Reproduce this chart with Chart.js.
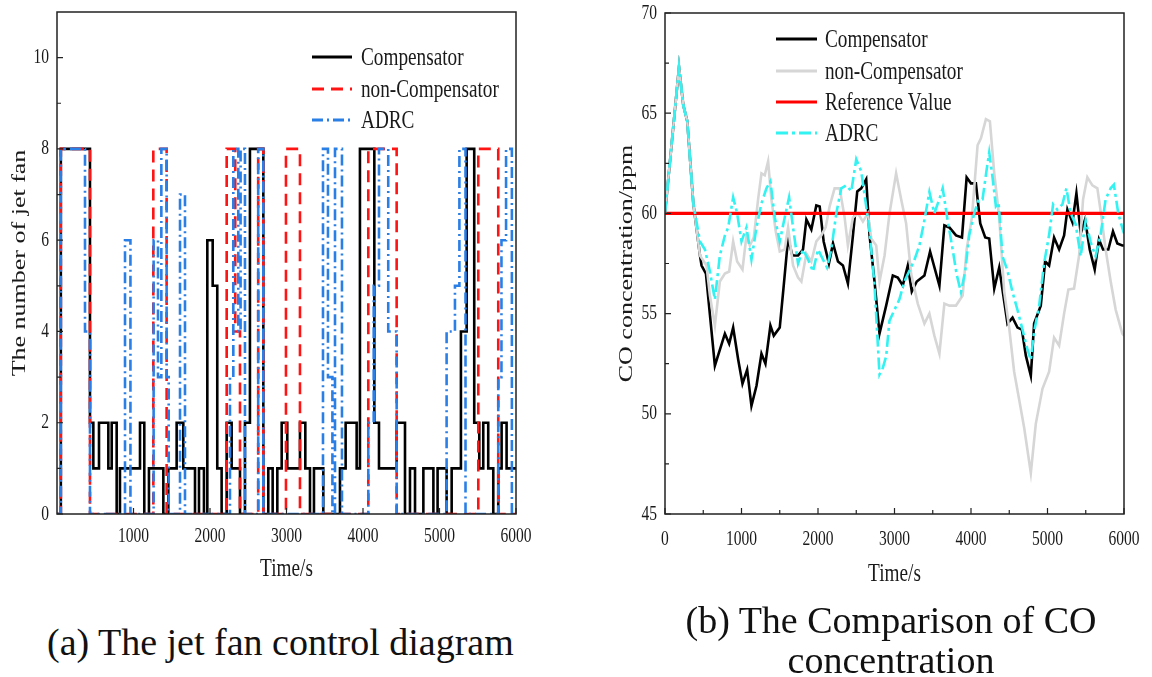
<!DOCTYPE html>
<html>
<head>
<meta charset="utf-8">
<script src="https://cdn.jsdelivr.net/npm/chart.js@4.4.1/dist/chart.umd.min.js"></script>
<style>
body { margin: 0; background: #fff; width: 1152px; height: 677px; position: relative; overflow: hidden;
       font-family: "Liberation Serif", "DejaVu Serif", serif; color: #111; }
canvas { position: absolute; top: 0; }
#fan { left: 0; }
#co { left: 580px; }
.cap { position: absolute; font-size: 38px; line-height: 40px; white-space: nowrap; }
</style>
</head>
<body>
<canvas id="fan" width="560" height="600"></canvas>
<canvas id="co" width="572" height="600"></canvas>
<div class="cap" style="left:47px; top:622px;">(a) The jet fan control diagram</div>
<div class="cap" style="left:640px; width:502px; top:600px; text-align:center;">(b) The Comparison of CO<br>concentration</div>
<script>
// (a) number of jet fans: time (s) where the level changes, and the new level
const fanCompT = [0, 50, 431, 475, 549, 671, 715, 780, 823, 1085, 1141, 1202, 1390, 1455, 1564, 1651, 1804, 1856, 1921, 1965,
                  2035, 2095, 2152, 2218, 2283, 2392, 2457, 2522, 2697, 2762, 2819, 2880, 2937, 3010, 3176, 3246, 3307, 3359, 3481, 3699,
                  3773, 3917, 3960, 4148, 4209, 4440, 4549, 4614, 4680, 4789, 4920, 4975, 5093, 5159, 5280, 5355, 5454, 5520, 5572, 5637,
                  5703, 5768, 5812, 5877, 6000];
const fanComp  = [0, 8, 2, 1, 2, 1, 2, 0, 1, 2, 0, 1, 0, 1, 2, 1, 0, 1, 0, 6,
                  5, 1, 0, 2, 1, 0, 2, 8, 0, 1, 0, 1, 2, 1, 2, 1, 0, 1, 0, 1,
                  2, 1, 8, 2, 1, 2, 0, 1, 0, 1, 0, 1, 0, 1, 4, 8, 2, 1, 2, 1,
                  0, 1, 2, 1, 1];

const fanNonT = [0, 50, 431, 1259, 1433, 2218, 2330, 2392, 2630, 2697, 2993, 3176, 4069, 4440, 5507, 5768, 6000];
const fanNon  = [0, 8, 0, 8, 0, 8, 4, 0, 8, 0, 8, 0, 8, 0, 8, 0, 0];

const fanAdrcT = [0, 50, 366, 431, 889, 960, 1263, 1320, 1364, 1433, 1460, 1608, 1673, 2261, 2305, 2370, 2400, 2457, 2630, 2697,
                  3477, 3542, 3600, 3634, 3725, 4069, 4140, 4209, 4330, 4440, 5093, 5202, 5260, 5340, 5768, 5810, 5870, 5946, 6000];
const fanAdrc  = [0, 8, 4, 0, 6, 0, 6, 3, 8, 3, 0, 7, 0, 3, 8, 4, 8, 0, 8, 0,
                  8, 3, 0, 8, 0, 2, 5, 8, 4, 0, 4, 5, 8, 0, 3, 6, 8, 0, 0];

// (b) CO concentration (ppm)
const coCompT = [0, 183, 239, 291, 370, 457, 478, 535, 652, 783, 839, 891, 957, 1013, 1074, 1130, 1196, 1261, 1313, 1378,
                 1422, 1500, 1552, 1609, 1665, 1739, 1804, 1848, 1913, 1978, 2022, 2074, 2143, 2196, 2261, 2326, 2391, 2457, 2513, 2565,
                 2630, 2674, 2739, 2804, 2891, 2978, 3043, 3108, 3174, 3226, 3291, 3391, 3465, 3587, 3652, 3717, 3804, 3882, 3943, 3999,
                 4064, 4121, 4186, 4238, 4304, 4369, 4477, 4543, 4608, 4665, 4717, 4782, 4825, 4912, 4969, 5021, 5086, 5152, 5217, 5260,
                 5326, 5378, 5434, 5491, 5552, 5617, 5673, 5726, 5795, 5856, 5913, 5978, 6000];
const coComp  = [60.0, 67.3, 65.4, 64.6, 60.5, 57.9, 57.4, 57.0, 52.4, 54.0, 53.5, 54.3, 52.7, 51.5, 52.2, 50.4, 51.4, 53.0, 52.5, 54.4,
                 53.9, 54.3, 56.4, 58.75, 57.9, 57.9, 58.2, 59.7, 59.2, 60.4, 60.35, 58.6, 57.5, 58.5, 57.6, 57.4, 56.5, 58.9, 61.1, 61.25,
                 61.7, 58.9, 56.6, 54.0, 55.4, 56.9, 56.8, 56.4, 57.4, 56.1, 56.6, 56.9, 58.1, 56.4, 59.4, 59.3, 58.9, 58.8, 61.8, 61.5,
                 61.5, 59.5, 58.8, 58.75, 56.25, 57.3, 54.5, 54.8, 54.3, 54.2, 52.9, 51.9, 54.5, 55.4, 57.6, 57.4, 58.8, 58.2, 58.9, 60.2,
                 59.55, 61.0, 59.0, 59.7, 58.2, 57.2, 58.7, 58.2, 58.2, 59.1, 58.5, 58.4, 58.4];

const coNonT = [0, 183, 239, 291, 370, 457, 543, 587, 652, 717, 783, 839, 891, 943, 1013, 1065, 1109, 1161, 1217, 1261,
                1304, 1348, 1391, 1448, 1500, 1565, 1609, 1674, 1739, 1783, 1848, 1913, 1978, 2043, 2100, 2152, 2217, 2283, 2348, 2391,
                2457, 2522, 2587, 2652, 2696, 2761, 2804, 2870, 2935, 3021, 3087, 3152, 3217, 3304, 3391, 3456, 3521, 3587, 3652, 3717,
                3804, 3891, 3943, 4012, 4086, 4130, 4195, 4247, 4304, 4369, 4434, 4499, 4564, 4630, 4695, 4782, 4847, 4934, 5021, 5086,
                5152, 5217, 5273, 5347, 5413, 5465, 5521, 5587, 5652, 5695, 5760, 5826, 5891, 5978, 6000];
const coNon  = [60.0, 67.3, 65.4, 64.6, 60.5, 57.9, 57.4, 55.9, 54.4, 56.6, 57.0, 57.1, 58.6, 57.6, 57.2, 58.9, 58.4, 58.8, 60.7, 62.0,
                61.9, 62.6, 60.7, 59.1, 58.1, 58.2, 59.3, 57.4, 56.8, 56.6, 58.0, 57.6, 58.6, 58.9, 59.3, 60.35, 61.25, 61.25, 59.8, 58.4,
                59.8, 60.0, 59.6, 60.0, 58.75, 58.4, 56.6, 57.9, 60.0, 62.0, 60.7, 59.5, 57.0, 55.5, 54.5, 55.0, 53.9, 53.0, 55.5, 55.4,
                55.4, 55.9, 58.2, 59.8, 63.4, 63.75, 64.7, 64.6, 62.0, 59.8, 56.1, 54.3, 52.1, 50.7, 49.3, 47.05, 49.5, 51.25, 52.1, 53.8,
                53.4, 55.0, 56.2, 56.25, 57.9, 60.7, 61.8, 61.4, 61.25, 60.1, 58.2, 56.6, 55.2, 54.0, 53.9];

const coRefT = [0, 6000];
const coRef  = [60, 60];

const coAdrcT = [0, 183, 239, 291, 370, 457, 522, 587, 652, 717, 783, 826, 891, 943, 1000, 1065, 1130, 1196, 1261, 1326,
                 1378, 1435, 1500, 1565, 1622, 1674, 1739, 1804, 1870, 1935, 2000, 2065, 2117, 2174, 2239, 2304, 2370, 2435, 2500, 2565,
                 2630, 2674, 2739, 2804, 2848, 2891, 2934, 2999, 3064, 3130, 3195, 3260, 3325, 3390, 3456, 3521, 3586, 3630, 3695, 3760,
                 3812, 3869, 3925, 3977, 4042, 4099, 4151, 4203, 4238, 4282, 4325, 4360, 4412, 4477, 4543, 4608, 4673, 4738, 4782, 4825,
                 4890, 4955, 5021, 5073, 5129, 5195, 5247, 5303, 5368, 5434, 5499, 5564, 5629, 5694, 5760, 5825, 5868, 5925, 5977, 6000];
const coAdrc  = [60.0, 67.3, 65.4, 64.6, 60.5, 58.6, 58.2, 57.1, 55.7, 57.9, 58.9, 59.3, 60.8, 60.0, 58.6, 59.3, 57.7, 59.3, 60.5, 61.25,
                 61.6, 59.8, 58.6, 59.8, 60.8, 59.3, 57.5, 58.2, 57.7, 57.1, 58.2, 57.7, 57.3, 58.2, 60.0, 61.25, 61.4, 61.1, 62.7, 62.1,
                 60.35, 59.1, 56.4, 51.96, 52.3, 52.86, 54.64, 55.18, 55.71, 56.61, 57.14, 57.68, 58.39, 59.64, 61.07, 60.0, 60.71, 61.25, 59.64, 58.21,
                 56.96, 56.07, 57.14, 58.93, 60.0, 60.71, 60.71, 62.14, 63.04, 61.79, 60.36, 60.54, 57.86, 57.14, 56.07, 55.18, 54.2, 53.21, 52.68, 54.11,
                 55.36, 57.5, 58.93, 60.45, 60.18, 60.45, 61.25, 60.0, 59.46, 57.86, 59.64, 58.57, 57.86, 58.93, 60.71, 61.25, 61.43, 60.0, 59.29, 59.0];

// tick labels
const fanTicksX = [1000, 2000, 3000, 4000, 5000, 6000];
const fanTicksY = [0, 2, 4, 6, 8, 10];
const coTicksX = [0, 1000, 2000, 3000, 4000, 5000, 6000];
const coTicksY = [45, 50, 55, 60, 65, 70];

const SX = 0.74; // the figure's lettering is horizontally squeezed
const FONT = '"Liberation Serif", "DejaVu Serif", serif';

function pts(xs, ys) {
    return xs.map((x, i) => ({ x: x, y: ys[i] }));
}

function squeezed(ctx, text, x, y, size, align, rot) {
    ctx.save();
    ctx.translate(x, y);
    ctx.scale(SX, 1);
    if (rot) ctx.rotate(rot);
    ctx.font = size + 'px ' + FONT;
    ctx.textAlign = align;
    ctx.textBaseline = 'middle';
    ctx.fillStyle = '#1a1a1a';
    ctx.fillText(text, 0, 0);
    ctx.restore();
}

// frame, inward ticks, labels, titles and legend drawn like the paper figure
function paperPlugin(cfg) {
    return {
        id: 'paper',
        afterDatasetsDraw(chart) {
            const ctx = chart.ctx;
            const a = chart.chartArea;
            const sx = chart.scales.x, sy = chart.scales.y;
            ctx.save();
            ctx.strokeStyle = '#222';
            ctx.lineWidth = 1.5;
            ctx.strokeRect(a.left, a.top, a.right - a.left, a.bottom - a.top);

            ctx.lineWidth = 1.2;
            ctx.beginPath();
            cfg.xMajor.forEach(v => { const p = sx.getPixelForValue(v); ctx.moveTo(p, a.bottom); ctx.lineTo(p, a.bottom - 6); });
            cfg.xMinor.forEach(v => { const p = sx.getPixelForValue(v); ctx.moveTo(p, a.bottom); ctx.lineTo(p, a.bottom - 4); });
            cfg.yMajor.forEach(v => { const p = sy.getPixelForValue(v); ctx.moveTo(a.left, p); ctx.lineTo(a.left + 6, p); });
            cfg.yMinor.forEach(v => { const p = sy.getPixelForValue(v); ctx.moveTo(a.left, p); ctx.lineTo(a.left + 4, p); });
            ctx.stroke();

            cfg.xLabels.forEach(v => squeezed(ctx, String(v), sx.getPixelForValue(v), cfg.xLabelY, 21, 'center'));
            cfg.yLabels.forEach(v => squeezed(ctx, String(v), cfg.yLabelX, sy.getPixelForValue(v), 21, 'right'));
            squeezed(ctx, cfg.xTitle, (a.left + a.right) / 2, cfg.xTitleY, 26, 'center');
            squeezed(ctx, cfg.yTitle, cfg.yTitleX, (a.top + a.bottom) / 2, 26, 'center', -Math.PI / 2);

            const lg = cfg.legend;
            lg.rows.forEach((di, i) => {
                const ds = chart.data.datasets[di];
                const y = lg.ys[i];
                ctx.save();
                ctx.strokeStyle = ds.borderColor;
                ctx.lineWidth = 3;
                ctx.setLineDash(ds.borderDash || []);
                ctx.beginPath();
                ctx.moveTo(lg.x1, y);
                ctx.lineTo(lg.x2, y);
                ctx.stroke();
                ctx.restore();
                squeezed(ctx, ds.label, lg.tx, y + 1, 26, 'left');
            });
            ctx.restore();
        }
    };
}

function baseOptions(pad, xMax, yMin, yMax) {
    return {
        responsive: false,
        animation: false,
        layout: { padding: pad },
        scales: {
            x: { type: 'linear', min: 0, max: xMax, display: false },
            y: { type: 'linear', min: yMin, max: yMax, display: false }
        },
        elements: { point: { radius: 0 }, line: { tension: 0 } },
        plugins: { legend: { display: false }, tooltip: { enabled: false } }
    };
}

new Chart(document.getElementById('fan').getContext('2d'), {
    type: 'line',
    data: {
        datasets: [{
            label: 'Compensator',
            data: pts(fanCompT, fanComp),
            borderColor: '#000000',
            borderWidth: 2.6,
            stepped: 'before',
            order: 3
        }, {
            label: 'non-Compensator',
            data: pts(fanNonT, fanNon),
            borderColor: '#ff1414',
            borderWidth: 2.6,
            borderDash: [12, 7],
            stepped: 'before',
            order: 2
        }, {
            label: 'ADRC',
            data: pts(fanAdrcT, fanAdrc),
            borderColor: '#2a7fe6',
            borderWidth: 2.6,
            borderDash: [11, 4, 2, 4],
            stepped: 'before',
            order: 1
        }]
    },
    options: baseOptions({ left: 57, top: 12, right: 44, bottom: 86 }, 6000, 0, 11),
    plugins: [paperPlugin({
        xMajor: fanTicksX, xMinor: [],
        yMajor: fanTicksY, yMinor: [1, 3, 5, 7, 9],
        xLabels: fanTicksX, xLabelY: 536,
        yLabels: fanTicksY, yLabelX: 49,
        xTitle: 'Time/s', xTitleY: 569,
        yTitle: 'The number of jet fan', yTitleX: 20,
        legend: { rows: [0, 1, 2], ys: [57, 89, 120], x1: 312, x2: 352, tx: 361 }
    })]
});

new Chart(document.getElementById('co').getContext('2d'), {
    type: 'line',
    data: {
        datasets: [{
            label: 'Compensator',
            data: pts(coCompT, coComp),
            borderColor: '#000000',
            borderWidth: 2.6,
            order: 4
        }, {
            label: 'non-Compensator',
            data: pts(coNonT, coNon),
            borderColor: '#d6d6d6',
            borderWidth: 2.6,
            order: 3
        }, {
            label: 'Reference Value',
            data: pts(coRefT, coRef),
            borderColor: '#ff0000',
            borderWidth: 3.2,
            order: 2
        }, {
            label: 'ADRC',
            data: pts(coAdrcT, coAdrc),
            borderColor: '#33f2f2',
            borderWidth: 2.6,
            borderDash: [12, 4, 3, 4],
            order: 1
        }]
    },
    options: baseOptions({ left: 85, top: 13, right: 28, bottom: 86 }, 6000, 45, 70),
    plugins: [paperPlugin({
        xMajor: coTicksX, xMinor: [500, 1500, 2500, 3500, 4500, 5500],
        yMajor: coTicksY, yMinor: [47.5, 52.5, 57.5, 62.5, 67.5],
        xLabels: coTicksX, xLabelY: 539,
        yLabels: coTicksY, yLabelX: 77,
        xTitle: 'Time/s', xTitleY: 574,
        yTitle: 'CO concentration/ppm', yTitleX: 47,
        legend: { rows: [0, 1, 2, 3], ys: [39, 71, 102, 133], x1: 196, x2: 237, tx: 245 }
    })]
});
</script>
</body>
</html>
